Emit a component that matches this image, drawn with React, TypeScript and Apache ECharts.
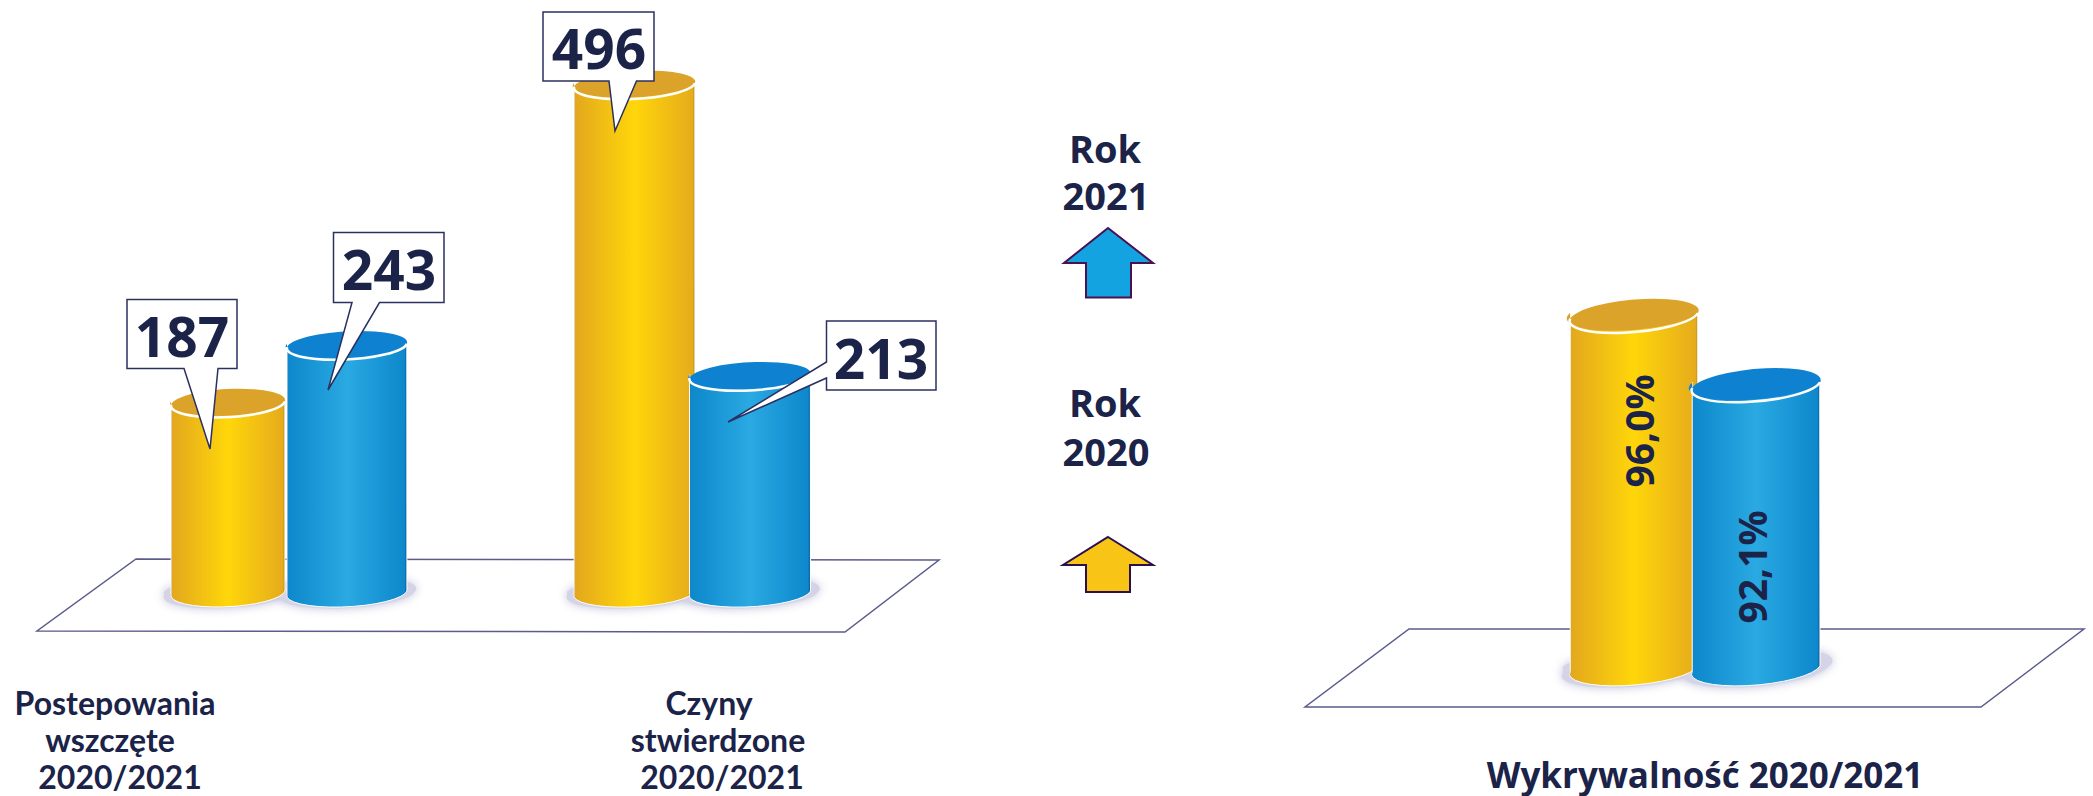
import React, { useEffect, useRef } from "react";
import * as echarts from "echarts";

const categories = ["Postepowania wszczęte 2020/2021", "Czyny stwierdzone 2020/2021"];
const cases2020 = [187, 496];
const cases2021 = [243, 213];
const detectionCategories = ["Wykrywalność 2020/2021"];
const detection2020 = [96.0];
const detection2021 = [92.1];

const FONT = "'Open Sans', 'Noto Sans', sans-serif";
const LABEL_FONT = "Lato, 'Open Sans', sans-serif";
const INK = "#1b2348";

const yellow = {
  body: [
    [0, "#8a6a20"], [0.014, "#e3a81e"], [0.5, "#ffd60a"], [0.98, "#e6ac1c"], [1, "#b08a20"],
  ],
  top: "#dca32a",
};
const blue = {
  body: [
    [0, "#0a4f8c"], [0.014, "#0d88cc"], [0.5, "#2aa9e2"], [0.98, "#0d88cc"], [1, "#0a4f8c"],
  ],
  top: "#0e82d0",
};

function stops(a: any[][]) {
  return a.map(([offset, color]) => ({ offset, color }));
}

function cylinder(
  palette: typeof yellow | null,
  offsets: number[],
  halfWidths: number[],
  ry: number,
  tiltDeg: number
) {
  return (params: any, api: any) => {
    const i = params.dataIndex;
    const halfWidth = halfWidths[i];
    const band = api.size([1, 0])[0];
    const top = api.coord([api.value(0), api.value(1)]);
    const cx = top[0] + offsets[i] * band;
    const cyTop = top[1];
    const cyBase = params.coordSys.y + params.coordSys.height - 3;
    const t = (tiltDeg * Math.PI) / 180;
    const dx = halfWidth * Math.cos(t);
    const dy = halfWidth * Math.sin(t);
    const arc = (x: number, y: number, sweep: number, r = halfWidth) =>
      `A ${r} ${ry} ${tiltDeg} 0 ${sweep} ${x} ${y}`;
    const lt = [cx - dx, cyTop - dy];
    const rt = [cx + dx, cyTop + dy];
    const lb = [cx - dx, cyBase - dy];
    const rb = [cx + dx, cyBase + dy];
    if (!palette) {
      const r = halfWidth + 7;
      return {
        type: "path",
        shape: {
          pathData: `M ${lb[0] - 7} ${lb[1] + 1} ${arc(rb[0] + 7, rb[1] + 1, 0, r)} ${arc(lb[0] - 7, lb[1] + 1, 0, r)} Z`,
        },
        style: { fill: "#d4d4e6", stroke: null, shadowBlur: 10, shadowColor: "#c0c0da" },
      };
    }
    return {
      type: "group",
      children: [
        {
          type: "path",
          shape: {
            pathData: `M ${lt[0]} ${lt[1]} L ${lb[0]} ${lb[1]} ${arc(rb[0], rb[1], 0)} L ${rt[0]} ${rt[1]} ${arc(lt[0], lt[1], 1)} Z`,
          },
          style: {
            fill: new echarts.graphic.LinearGradient(0, 0, 1, 0, stops(palette.body)),
            stroke: "#ffffff",
            lineWidth: 1,
          },
        },
        {
          type: "path",
          shape: {
            pathData: `M ${lt[0]} ${lt[1]} ${arc(rt[0], rt[1], 1)} ${arc(lt[0], lt[1], 1)} Z`,
          },
          style: { fill: palette.top, stroke: null },
        },
        {
          type: "path",
          shape: { pathData: `M ${lt[0]} ${lt[1]} ${arc(rt[0], rt[1], 0)}` },
          style: { fill: null, stroke: "#ffffff", lineWidth: 2.5 },
        },
      ],
    };
  };
}

function poly(points: number[][], fill: string, stroke: string, z: number, lineWidth = 1.5) {
  return { type: "polygon", z, shape: { points }, style: { fill, stroke, lineWidth } };
}

function text(t: string, x: number, y: number, size: number, z = 10, rotation = 0, font = FONT) {
  return {
    type: "text",
    z,
    x,
    y,
    rotation,
    style: {
      text: t,
      fill: INK,
      font: `700 ${size}px ${font}`,
      textAlign: "center",
      textVerticalAlign: "middle",
    },
  };
}

function callout(value: number, box: number[], tail: number[][], tx: number, ty: number) {
  const [x0, y0, x1, y1] = box;
  return [
    poly(
      tail[0][1] === y1
        ? [[x0, y0], [x1, y0], [x1, y1], tail[2], tail[1], tail[0], [x0, y1]]
        : [[x0, y0], [x1, y0], [x1, y1], [x0, y1], tail[2], tail[1], tail[0]],
      "#ffffff",
      "#2a3060",
      20
    ),
    text(String(value), tx, ty, 55, 21),
  ];
}

function buildOption() {
  const data = (vals: number[]) => vals.map((v, i) => [i, v]);
  const series: any[] = [];
  const add = (vals: number[], name: string, pal: any, off: number[], hw: number[], ry: number, tilt: number, axis: number, z: number) => {
    series.push({
      type: "custom",
      name,
      xAxisIndex: axis,
      yAxisIndex: axis,
      z,
      clip: false,
      silent: true,
      encode: { x: 0, y: 1 },
      data: data(vals),
      renderItem: cylinder(pal, off, hw, ry, tilt),
    });
  };
  const offY = [-0.1443, -0.1418];
  const offB = [0.149, 0.143];
  const hwY = [57, 60.5];
  const hwB = [60, 60.5];
  add(cases2020, "s", null, offY, hwY, 14, -3.3, 0, 1);
  add(cases2021, "s", null, offB, hwB, 14, -3.3, 0, 1);
  add(detection2020, "s", null, [-0.1525], [64], 16, -5, 1, 1);
  add(detection2021, "s", null, [0.1525], [64], 16, -5, 1, 1);
  add(cases2020, "Rok 2020", yellow, offY, hwY, 14, -3.3, 0, 2);
  add(cases2021, "Rok 2021", blue, offB, hwB, 14, -3.3, 0, 3);
  add(detection2020, "Rok 2020", yellow, [-0.1525], [64], 16, -5, 1, 2);
  add(detection2021, "Rok 2021", blue, [0.1525], [64], 16, -5, 1, 3);

  const FLOOR = "#5b5b8c";
  const graphic: any[] = [
    poly([[136, 559], [939, 560], [845, 632], [37, 631]], "#ffffff", FLOOR, 0),
    poly([[1409, 629], [2084, 629], [1981, 707], [1305, 707]], "#ffffff", FLOOR, 0),

    ...callout(cases2020[0], [127, 299.5, 237, 368.5], [[184, 368.5], [210, 449], [218, 368.5]], 182, 335),
    ...callout(cases2021[0], [333.5, 232.5, 444, 302.5], [[352, 302.5], [328, 390], [379.5, 302.5]], 389, 268),
    ...callout(cases2020[1], [543, 12, 654, 81], [[609, 81], [615, 131], [636.5, 81]], 599, 47),
    ...callout(cases2021[1], [826.5, 321, 936, 390], [[826.5, 362], [728, 422], [826.5, 378]], 881, 357),

    text("Postepowania", 115, 702, 32, 10, 0, LABEL_FONT),
    text("wszczęte", 110, 739, 32, 10, 0, LABEL_FONT),
    text("2020/2021", 120, 776, 32, 10, 0, LABEL_FONT),
    text("Czyny", 709, 702, 32, 10, 0, LABEL_FONT),
    text("stwierdzone", 718, 739, 32, 10, 0, LABEL_FONT),
    text("2020/2021", 722, 776, 32, 10, 0, LABEL_FONT),

    text("Rok", 1105, 148, 38),
    text("2021", 1106, 195, 38),
    poly([[1108, 228], [1153, 263], [1131, 263], [1131, 297.5], [1086, 297.5], [1086, 263], [1064, 263]], "#12a3e0", "#4a1050", 5, 2),
    text("Rok", 1105, 402, 38),
    text("2020", 1106, 451, 38),
    poly([[1108, 537], [1153, 565], [1130, 565], [1130, 592], [1086, 592], [1086, 565], [1063, 565]], "#f8c416", "#2a1050", 5, 2),

    text(detectionCategories[0], 1705, 774, 35),
    text(`${detection2020[0].toFixed(1).replace(".", ",")}%`, 1638, 431, 39, 10, Math.PI / 2),
    text(`${detection2021[0].toFixed(1).replace(".", ",")}%`, 1751, 567, 39, 10, Math.PI / 2),
  ];

  return {
    animation: false,
    backgroundColor: "#ffffff",
    grid: [
      { left: 83.75, width: 811, top: 79, height: 515 },
      { left: 1495, width: 400, top: 241.8, height: 427.2 },
    ],
    xAxis: [
      { type: "category", gridIndex: 0, data: categories, show: false },
      { type: "category", gridIndex: 1, data: detectionCategories, show: false },
    ],
    yAxis: [
      { type: "value", gridIndex: 0, min: 0, max: 500, show: false },
      { type: "value", gridIndex: 1, min: 76, max: 100, show: false },
    ],
    graphic,
    series,
  };
}

export default function App() {
  const ref = useRef<HTMLDivElement>(null);
  useEffect(() => {
    document.body.style.margin = "0";
    const chart = echarts.init(ref.current!, null, { renderer: "svg" });
    chart.setOption(buildOption() as any);
    return () => chart.dispose();
  }, []);
  return <div ref={ref} style={{ width: 2093, height: 796, background: "#fff" }} />;
}
